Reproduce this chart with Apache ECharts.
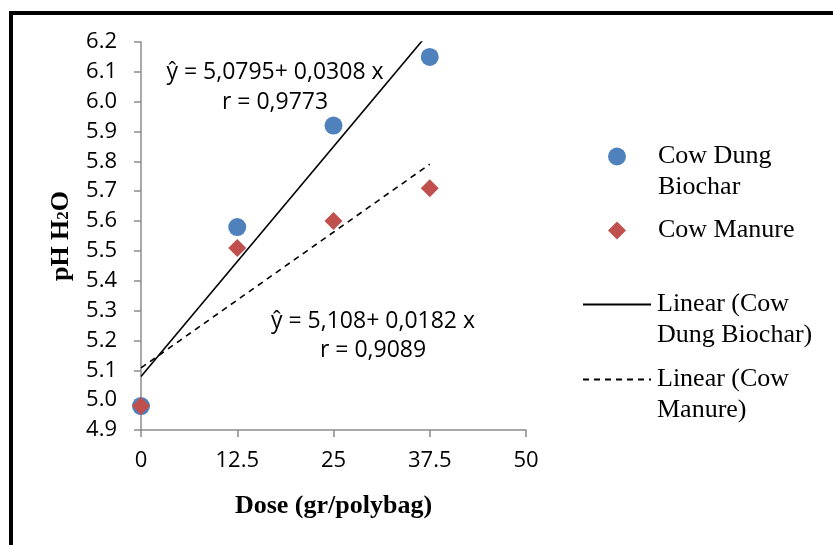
<!DOCTYPE html>
<html>
<head>
<meta charset="utf-8">
<title>pH H2O vs Dose</title>
<script src="https://cdn.jsdelivr.net/npm/echarts@6/dist/echarts.min.js"></script>
<style>
  html, body { margin: 0; padding: 0; background: #fff; }
  #chart { width: 833px; height: 545px; }
</style>
</head>
<body>
<div id="chart"></div>
<script>
// data
const doses = [0, 12.5, 25, 37.5]
const biocharPH = [4.98, 5.58, 5.92, 6.15]
const manurePH = [4.98, 5.51, 5.60, 5.71]
const xTicks = [0, 12.5, 25, 37.5, 50]
const yTicks = [4.9, 5.0, 5.1, 5.2, 5.3, 5.4, 5.5, 5.6, 5.7, 5.8, 5.9, 6.0, 6.1, 6.2]

// regression lines as printed on the chart
const biocharFit = { a: 5.0795, b: 0.0308 }
const manureFit = { a: 5.108, b: 0.0182 }
const biocharEq = ['ŷ = 5,0795+ 0,0308 x', 'r = 0,9773']
const manureEq = ['ŷ = 5,108+ 0,0182 x', 'r = 0,9089']

const pairs = (xs, ys) => xs.map((x, i) => [x, ys[i]])
const fitLine = (fit, xs) => [xs[0], xs[xs.length - 1]].map(x => [x, fit.a + fit.b * x])

const serif = '"Liberation Serif", "Times New Roman", serif'
const sans = '"Open Sans", "Liberation Sans", sans-serif'
const axisGray = '#8c8c8c'

const legendText = {
  color: '#000',
  fontFamily: serif,
  fontSize: 26,
  lineHeight: 31
}

const chart = echarts.init(document.getElementById('chart'))
chart.setOption({
  animation: false,
  backgroundColor: '#fff',
  grid: { left: 141, right: 307, top: 42, bottom: 115 },
  xAxis: {
    type: 'value',
    min: xTicks[0],
    max: xTicks[xTicks.length - 1],
    interval: xTicks[1] - xTicks[0],
    splitLine: { show: false },
    axisLine: { lineStyle: { color: axisGray, width: 1.5 } },
    axisTick: { show: true, length: 7, lineStyle: { color: axisGray, width: 1.5 } },
    axisLabel: { color: '#000', fontFamily: sans, fontSize: 22, margin: 20 },
    name: 'Dose (gr/polybag)',
    nameLocation: 'middle',
    nameGap: 63,
    nameTextStyle: { color: '#000', fontFamily: serif, fontWeight: 'bold', fontSize: 26 }
  },
  yAxis: {
    type: 'value',
    min: yTicks[0],
    max: yTicks[yTicks.length - 1],
    interval: 0.1,
    splitLine: { show: false },
    axisLine: { show: true, lineStyle: { color: axisGray, width: 1.5 } },
    axisTick: { show: true, length: 7, lineStyle: { color: axisGray, width: 1.5 } },
    axisLabel: {
      color: '#000', fontFamily: sans, fontSize: 22, margin: 24,
      formatter: v => v.toFixed(1)
    },
    name: '{m|pH H}{s|2}{m|O}',
    nameLocation: 'middle',
    nameGap: 62,
    nameTextStyle: {
      rich: {
        m: { color: '#000', fontFamily: serif, fontWeight: 'bold', fontSize: 26, padding: [0, 0, 5, 0] },
        s: { color: '#000', fontFamily: serif, fontWeight: 'bold', fontSize: 17 }
      }
    }
  },
  // one legend per entry; the empty first line keeps the icon beside the first text line
  legend: [
    {
      data: [{ name: 'Cow Dung Biochar', icon: 'circle' }],
      left: 608, top: 110, padding: 0,
      itemWidth: 18, itemHeight: 18,
      formatter: () => '\nCow Dung\nBiochar',
      textStyle: Object.assign({ padding: [0, 0, 0, 27] }, legendText)
    },
    {
      data: [{ name: 'Cow Manure', icon: 'diamond' }],
      left: 608, top: 215, padding: 0,
      itemWidth: 18, itemHeight: 18,
      textStyle: Object.assign({ padding: [0, 0, 0, 27] }, legendText)
    },
    {
      data: ['Linear (Cow Dung Biochar)'],
      left: 582, top: 258, padding: 0,
      itemWidth: 68, itemHeight: 14,
      itemStyle: { opacity: 0, borderWidth: 0 },
      formatter: () => '\nLinear (Cow\nDung Biochar)',
      textStyle: Object.assign({ padding: [0, 0, 0, 1] }, legendText)
    },
    {
      data: ['Linear (Cow Manure)'],
      left: 582, top: 333, padding: 0,
      itemWidth: 68, itemHeight: 14,
      itemStyle: { opacity: 0, borderWidth: 0 },
      formatter: () => '\nLinear (Cow\nManure)',
      textStyle: Object.assign({ padding: [0, 0, 0, 1] }, legendText)
    }
  ],
  series: [
    {
      name: 'Linear (Cow Dung Biochar)',
      type: 'line',
      data: fitLine(biocharFit, doses),
      symbol: 'none',
      clip: true,
      lineStyle: { color: '#000', width: 1.6 },
      itemStyle: { color: '#000' }
    },
    {
      name: 'Linear (Cow Manure)',
      type: 'line',
      data: fitLine(manureFit, doses),
      symbol: 'none',
      clip: true,
      lineStyle: { color: '#000', width: 1.6, type: [6, 5] },
      itemStyle: { color: '#000' }
    },
    {
      name: 'Cow Dung Biochar',
      type: 'scatter',
      data: pairs(doses, biocharPH),
      symbol: 'circle',
      symbolSize: 18,
      itemStyle: { color: '#4f81bd', opacity: 1 }
    },
    {
      name: 'Cow Manure',
      type: 'scatter',
      data: pairs(doses, manurePH),
      symbol: 'diamond',
      symbolSize: 18,
      itemStyle: { color: '#c0504d', opacity: 1 }
    }
  ],
  graphic: [
    {
      type: 'rect',
      shape: { x: 11, y: 13, width: 900, height: 600 },
      style: { fill: 'none', stroke: '#000', lineWidth: 4 },
      silent: true
    },
    {
      type: 'text',
      x: 275, y: 87,
      style: {
        text: biocharEq.join('\n'),
        align: 'center', verticalAlign: 'middle',
        font: '23px ' + sans, lineHeight: 30, fill: '#000'
      }
    },
    {
      type: 'text',
      x: 373, y: 336,
      style: {
        text: manureEq.join('\n'),
        align: 'center', verticalAlign: 'middle',
        font: '23px ' + sans, lineHeight: 29, fill: '#000'
      }
    }
  ]
})
</script>
</body>
</html>
